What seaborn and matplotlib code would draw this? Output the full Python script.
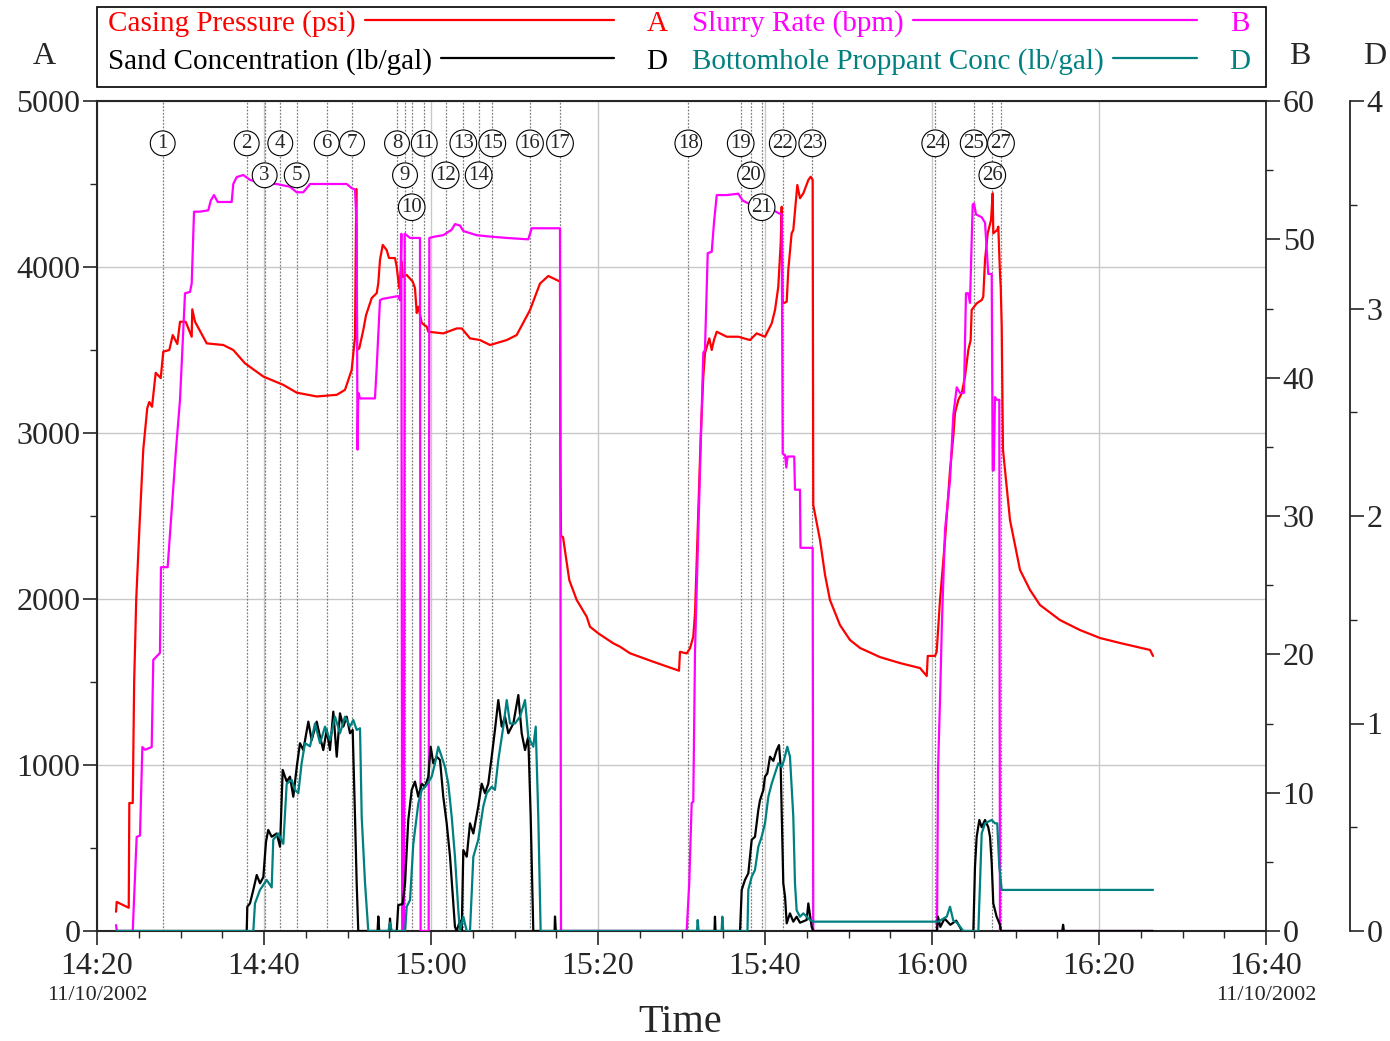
"""
Frac treatment chart: casing pressure, slurry rate and proppant concentrations vs time.
"""

import matplotlib
matplotlib.use("Agg")
import matplotlib.pyplot as plt
import matplotlib.ticker as mticker
from matplotlib.lines import Line2D
from matplotlib.patches import Rectangle
import seaborn as sns

sns.set_style("ticks")
plt.rcParams["font.family"] = ["Liberation Serif", "DejaVu Serif"]

# ---- data (time in minutes after 14:20 on 11/10/2002) ----
pressure_t = [2.28, 2.36, 3.80, 3.87, 4.28, 4.45, 4.70, 5.10, 5.54, 6.02, 6.26, 6.59, 7.03, 7.63,
              7.94, 8.66, 9.07, 9.62, 9.94, 10.62, 11.34, 11.41, 11.74, 13.14, 15.13, 16.32, 17.72,
              19.92, 22.31, 23.92, 26.31, 28.71, 29.70, 30.50, 30.90, 31.05, 31.15, 31.41, 31.89,
              32.22, 32.90, 33.50, 33.69, 33.89, 34.22, 34.69, 34.97, 35.69, 35.89, 36.20, 36.49,
              36.61, 37.09, 37.81, 38.08, 38.29, 38.48, 38.89, 39.49, 39.68, 41.47, 43.08, 43.68,
              44.67, 45.87, 47.07, 49.07, 50.26, 51.86, 53.05, 54.05, 55.45, 55.50, 55.57, 55.81,
              56.56, 57.45, 58.65, 59.04, 60.04, 61.83, 62.63, 63.83, 66.62, 69.70, 69.82, 70.62,
              71.02, 71.41, 71.62, 72.30, 72.61, 72.81, 73.33, 73.62, 73.89, 74.22, 75.41, 76.80,
              78.20, 79.00, 80.00, 80.80, 81.20, 81.59, 81.88, 82.00, 82.10, 82.19, 82.60, 82.79,
              83.19, 83.39, 83.87, 84.19, 84.59, 85.19, 85.47, 85.71, 85.78, 86.59, 87.19, 87.78,
              88.98, 90.18, 91.38, 93.77, 96.17, 98.56, 99.37, 99.49, 100.36, 100.56, 100.96,
              101.56, 102.16, 102.55, 102.75, 103.15, 103.56, 103.95, 104.35, 104.63, 104.75,
              105.35, 105.95, 106.14, 106.35, 106.67, 107.07, 107.27, 107.34, 107.81, 107.94,
              108.14, 108.23, 108.35, 108.50, 109.34, 110.54, 111.74, 112.93, 115.33, 117.72,
              120.12, 122.51, 126.11, 126.47]
pressure_psi = [116, 175, 140, 771, 771, 1500, 2000, 2450, 2900, 3150, 3187, 3158, 3363, 3331,
                3490, 3500, 3590, 3536, 3670, 3670, 3580, 3745, 3670, 3540, 3530, 3500, 3420,
                3340, 3290, 3243, 3220, 3230, 3260, 3380, 3580, 4470, 3500, 3510, 3620,
                3710, 3813, 3843, 3903, 4042, 4133, 4102, 4054, 4054, 4002, 3871, 4032,
                3940, 3952, 3912, 3873, 3723, 3761, 3663, 3640, 3610, 3600, 3630, 3630,
                3570, 3560, 3530, 3560, 3590, 3741, 3900, 3946, 3912, 2800, 2380, 2373,
                2114, 1994, 1893, 1833, 1793, 1733, 1713, 1673, 1622, 1568, 1682, 1672,
                1703, 1773, 1916, 2978, 3339, 3480, 3570, 3500, 3560, 3610, 3580, 3580,
                3560, 3600, 3580, 3660, 3741, 3881, 4143, 4363, 3800, 3781, 3791, 3982,
                4203, 4223, 4494, 4414, 4444, 4524, 4544, 4524, 2566, 2355, 2145, 1994,
                1843, 1753, 1705, 1650, 1614, 1584, 1536, 1657, 1657, 1682, 1994,
                2355, 2777, 2978, 3120, 3199, 3239, 3339, 3500, 3560, 3741,
                3781, 3801, 3821, 4042, 4203, 4283, 4444, 4203, 4223, 4243,
                3962, 3881, 3640, 2900, 2476, 2175, 2054, 1964, 1873, 1813,
                1765, 1735, 1693, 1657]

slurry_t = [2.28, 2.36, 4.28, 4.75, 5.15, 5.43, 5.75, 6.55, 6.74, 7.54, 7.66, 8.46, 9.46, 9.94,
            10.54, 11.14, 11.34, 11.62, 12.34, 13.33, 13.62, 14.01, 14.46, 16.13, 16.32, 16.73,
            17.52, 18.32, 19.92, 21.52, 23.11, 23.92, 24.71, 25.51, 27.10, 29.90, 30.50, 30.90,
            31.10, 31.20, 31.29, 31.50, 33.29, 33.50, 33.89, 34.22, 36.08, 36.29, 36.45, 36.55,
            36.75, 36.85, 37.09, 37.49, 38.68, 38.76, 39.72, 39.80, 40.48, 41.47, 42.48, 42.87,
            43.47, 43.87, 45.47, 47.07, 49.07, 51.65, 52.06, 55.45, 55.57, 70.62, 70.93, 71.22,
            71.41, 71.62, 72.61, 72.81, 73.14, 73.62, 73.89, 74.22, 75.41, 76.80, 77.33, 78.00,
            79.40, 81.00, 81.59, 82.00, 82.12, 82.40, 82.55, 82.70, 83.50, 83.59, 84.19, 84.25,
            85.71, 85.78, 100.60, 100.72, 100.96, 101.20, 101.56, 102.16, 102.55, 102.96, 103.35,
            103.83, 104.07, 104.35, 104.55, 104.75, 104.87, 105.03, 105.27, 105.95, 106.35,
            106.74, 107.15, 107.27, 107.40, 107.54, 107.74, 108.06, 108.14, 126.47]
slurry_bpm = [0.43, 0, 0, 6.8, 6.9, 13.3, 13.1, 13.3, 19.6, 20.1, 26.3, 26.3, 34.8, 38.4,
              46.1, 46.2, 46.8, 52.0, 52.0, 52.1, 52.8, 53.2, 52.7, 52.7, 54.0, 54.5,
              54.65, 54.3, 54.0, 54.0, 53.8, 53.4, 53.4, 54.0, 54.0, 54.0, 53.7, 53.6,
              50.9, 34.8, 38.9, 38.5, 38.5, 40.8, 45.6, 45.7, 45.9, 45.6, 50.4, 0,
              0, 50.4, 50.3, 50.1, 50.1, 0, 0, 50.1, 50.2, 50.3, 50.7, 51.1,
              51.0, 50.6, 50.3, 50.2, 50.1, 50.0, 50.8, 50.8, 0, 0, 3.5, 9.25,
              9.35, 20.3, 41.8, 42.0, 49.0, 49.1, 51.2, 53.2, 53.2, 53.3, 52.8, 52.6,
              52.4, 52.1, 51.9, 51.8, 34.5, 34.4, 33.5, 34.3, 34.3, 31.9, 31.9, 27.7,
              27.7, 0, 0, 11.6, 16.7, 22.5, 29.0, 32.6, 37.3, 39.3, 38.9,
              38.9, 46.1, 46.1, 45.4, 49.7, 52.5, 52.6, 51.8, 51.6, 51.2,
              47.5, 47.5, 33.3, 33.3, 38.6, 38.4, 38.4, 0, 0]

sand_t = [2.28, 17.93, 18.00, 18.32, 18.72, 19.13, 19.52, 19.92, 20.24, 20.51, 20.92, 21.52, 21.92,
          22.24, 22.72, 23.11, 23.51, 23.92, 24.31, 24.71, 25.31, 25.71, 26.31, 26.71, 27.10, 27.51,
          27.90, 28.30, 28.71, 29.10, 29.50, 29.90, 30.30, 30.62, 30.90, 31.10, 31.29, 33.60, 33.69,
          33.80, 35.00, 35.09, 35.20, 35.90, 36.08, 36.60, 36.89, 37.28, 37.69, 38.08, 38.48, 38.89,
          39.28, 39.68, 39.96, 40.28, 40.68, 41.08, 41.47, 41.88, 42.28, 42.67, 42.87, 43.08, 43.47,
          43.68, 43.87, 44.28, 44.67, 45.07, 45.66, 46.07, 46.47, 46.86, 47.27, 47.66, 48.06, 48.47,
          48.86, 49.26, 49.86, 50.46, 50.86, 51.26, 51.65, 51.94, 52.25, 54.80, 54.85, 54.95, 73.95,
          74.01, 74.07, 77.01, 77.21, 77.60, 78.00, 78.41, 78.80, 79.20, 79.40, 79.80, 80.00, 80.28,
          80.60, 81.00, 81.40, 81.68, 81.88, 82.19, 82.40, 82.60, 82.99, 83.39, 83.79, 84.19, 84.99,
          85.19, 85.59, 85.78, 100.60, 100.72, 101.00, 101.50, 102.20, 102.90, 103.60, 104.95,
          105.15, 105.35, 105.67, 105.95, 106.35, 106.74, 106.95, 107.15, 107.34, 107.74, 108.14,
          108.26, 115.60, 115.70, 115.80, 126.47]
sand_ppg = [0, 0, 0.117, 0.133, 0.198, 0.270, 0.23, 0.26, 0.43, 0.487, 0.454, 0.47, 0.406,
            0.776, 0.72, 0.744, 0.647, 0.79, 0.905, 0.872, 1.009, 0.92, 1.009, 0.936, 0.872, 0.969,
            0.872, 1.057, 0.84, 1.049, 0.985, 1.033, 0.953, 0.969, 0.55, 0.23, 0, 0, 0.07,
            0, 0, 0.06, 0, 0, 0.125, 0.13, 0.23, 0.535, 0.68, 0.72, 0.647, 0.71,
            0.695, 0.744, 0.888, 0.808, 0.84, 0.824, 0.647, 0.519, 0.358, 0.133, 0.02, 0, 0.05,
            0, 0.39, 0.358, 0.519, 0.47, 0.6, 0.71, 0.664, 0.71, 0.84, 0.969, 1.113, 0.985,
            1.033, 0.953, 1.0, 1.137, 0.953, 0.872, 0.936, 0.55, 0, 0, 0.07, 0, 0,
            0.069, 0, 0, 0.198, 0.246, 0.278, 0.44, 0.454, 0.583, 0.63, 0.68, 0.744, 0.76,
            0.84, 0.82, 0.872, 0.896, 0.79, 0.23, 0.165, 0.037, 0.085, 0.045, 0.069, 0.04, 0.053,
            0.133, 0.02, 0, 0, 0.069, 0.02, 0.06, 0.03, 0.05, 0, 0,
            0.31, 0.454, 0.535, 0.5, 0.535, 0.5, 0.454, 0.326, 0.133, 0.069, 0.03,
            0, 0, 0.03, 0, 0]

bhc_t = [2.28, 18.72, 18.92, 19.52, 20.32, 20.92, 21.11, 21.71, 22.31, 22.72, 23.32, 23.71, 24.11,
         24.51, 24.91, 25.51, 26.11, 26.71, 27.31, 27.90, 28.50, 29.10, 29.70, 30.30, 30.69, 31.10,
         31.50, 31.70, 32.10, 32.49, 34.90, 35.09, 35.30, 36.90, 37.09, 37.49, 37.88, 38.48, 38.89,
         39.49, 40.08, 40.48, 40.87, 41.28, 41.68, 42.07, 42.48, 42.87, 43.27, 43.47, 43.87, 44.28,
         44.67, 45.07, 45.66, 46.26, 46.67, 47.27, 47.66, 48.06, 48.66, 49.07, 49.46, 50.06, 50.66,
         51.26, 51.65, 52.25, 52.54, 52.85, 53.13, 71.85, 71.94, 72.05, 74.80, 74.89, 75.00, 77.90,
         78.00, 78.41, 78.80, 79.20, 79.60, 80.00, 80.40, 80.80, 81.20, 81.59, 82.00, 82.28, 82.67,
         82.99, 83.39, 83.59, 83.79, 84.19, 84.59, 84.99, 85.39, 85.78, 100.36, 100.75, 101.76,
         102.16, 102.55, 103.00, 103.75, 105.55, 105.75, 105.95, 106.35, 107.15, 107.54, 107.81,
         108.06, 108.35, 126.47]
bhc_ppg = [0, 0, 0.133, 0.198, 0.246, 0.21, 0.44, 0.47, 0.42, 0.71, 0.728, 0.68, 0.664,
           0.81, 0.905, 0.89, 1.0, 0.905, 0.985, 0.92, 1.033, 0.953, 1.033, 0.985, 1.017, 0.969,
           0.977, 0.55, 0.23, 0, 0, 0.04, 0, 0, 0.117, 0.149, 0.42, 0.615, 0.68,
           0.704, 0.744, 0.808, 0.888, 0.84, 0.79, 0.71, 0.55, 0.358, 0.1, 0, 0.069, 0,
           0, 0.358, 0.44, 0.6, 0.664, 0.695, 0.68, 0.824, 0.985, 1.113, 1.0, 1.0, 1.033,
           1.113, 0.936, 0.888, 0.985, 0.55, 0, 0, 0.053, 0, 0, 0.069, 0, 0,
           0.198, 0.262, 0.294, 0.406, 0.454, 0.519, 0.647, 0.71, 0.76, 0.808, 0.79, 0.824, 0.888,
           0.84, 0.55, 0.23, 0.1, 0.069, 0.085, 0.069, 0.053, 0.045, 0.045, 0.045, 0.069,
           0.117, 0.05, 0.04, 0, 0, 0.23, 0.47, 0.519, 0.535, 0.519, 0.519,
           0.31, 0.198, 0.198]

event_t = [7.87, 17.93, 20.08, 21.95, 23.92, 27.51, 30.54, 35.93, 36.89, 37.69, 39.19, 41.76,
           43.87, 45.71, 47.34, 51.86, 55.45, 70.81, 77.09, 78.32, 79.60, 82.12, 85.66, 100.39,
           104.99, 107.22, 108.26]
event_num = list(range(1, 28))

RED, MAGENTA, TEAL = "#ff0000", "#ff00ff", "#008080"


def px(x, y):
    """Figure pixel position -> figure fraction."""
    return x / 1390, 1 - y / 1041


def clock(v, pos=None):
    m = int(round(v)) + 14 * 60 + 20
    return f"{m // 60}:{m % 60:02d}"


fig = plt.figure(figsize=(13.9, 10.41), dpi=100)
ax = fig.add_axes([97 / 1390, 110 / 1041, 1169 / 1390, 830 / 1041])
axB = ax.twinx()
axD = ax.twinx()
axD.spines["right"].set_position(("axes", (1350 - 97) / 1169))

# event lines (under the curves)
for t in event_t:
    ax.axvline(t, color="#808080", lw=0.9, ls=(0, (1.5, 1.2)), zorder=1)

sns.lineplot(x=pressure_t, y=pressure_psi, ax=ax, color=RED, lw=1.6, estimator=None, sort=False)
sns.lineplot(x=slurry_t, y=slurry_bpm, ax=axB, color=MAGENTA, lw=1.6, estimator=None, sort=False)
sns.lineplot(x=sand_t, y=sand_ppg, ax=axD, color="black", lw=1.6, estimator=None, sort=False)
sns.lineplot(x=bhc_t, y=bhc_ppg, ax=axD, color=TEAL, lw=1.6, estimator=None, sort=False)

# axes limits & ticks
ax.set_xlim(0, 140)
ax.set_ylim(0, 5000)
axB.set_ylim(0, 60)
axD.set_ylim(0, 4)
ax.xaxis.set_major_locator(mticker.MultipleLocator(20))
ax.xaxis.set_minor_locator(mticker.MultipleLocator(5))
ax.xaxis.set_major_formatter(mticker.FuncFormatter(clock))
ax.yaxis.set_major_locator(mticker.MultipleLocator(1000))
ax.yaxis.set_minor_locator(mticker.MultipleLocator(500))
axB.yaxis.set_major_locator(mticker.MultipleLocator(10))
axB.yaxis.set_minor_locator(mticker.MultipleLocator(5))
axD.yaxis.set_major_locator(mticker.MultipleLocator(1))
axD.yaxis.set_minor_locator(mticker.MultipleLocator(0.5))

for a in (ax, axB, axD):
    a.set_xlabel("")
    a.set_ylabel("")
    a.tick_params(which="major", direction="out", length=10, width=1.2, labelsize=23, pad=2)
    a.tick_params(which="minor", direction="out", length=5, width=1)
ax.tick_params(axis="x", pad=5)

ax.grid(True, which="major", color="#c8c8c8", lw=1)
ax.set_axisbelow(True)

for side in ("left", "bottom", "top"):
    ax.spines[side].set_visible(True)
    ax.spines[side].set_linewidth(1.5)
ax.spines["right"].set_visible(False)
for a in (axB, axD):
    for side in ("left", "bottom", "top"):
        a.spines[side].set_visible(False)
    a.spines["right"].set_linewidth(1.3)

# circled event numbers, stacked so they do not overlap
rows_last = []
for t, n in zip(event_t, event_num):
    row = 0
    while row < len(rows_last) and t - rows_last[row] < 2.8:
        row += 1
    if row == len(rows_last):
        rows_last.append(t)
    rows_last[row] = t
    axD.text(t, 0.949 - 0.0385 * row, str(n), transform=axD.get_xaxis_transform(),
             ha="center", va="center", fontsize=15, zorder=10,
             bbox=dict(boxstyle="circle,pad=0.14", fc="white", ec="black", lw=0.8))

# axis letters, dates, x label
for x, s in ((44, "A"), (1300, "B"), (1375, "D")):
    fig.text(*px(x, 57), s, ha="center", va="center", fontsize=23)
for x in (97, 1266):
    fig.text(*px(x, 996), "11/10/2002", ha="center", va="center", fontsize=16)
fig.text(*px(680, 1022), "Time", ha="center", va="center", fontsize=29)

# legend box
fig.add_artist(Rectangle(px(97, 87), 1169 / 1390, 80 / 1041, transform=fig.transFigure,
                         fill=False, ec="black", lw=1.2))
entries = [
    ("Casing Pressure (psi)", RED, 108, 24, 614, "A", 657),
    ("Slurry Rate (bpm)", MAGENTA, 692, 24, 1197, "B", 1240),
    ("Sand Concentration (lb/gal)", "black", 108, 62, 614, "D", 657),
    ("Bottomhole Proppant Conc (lb/gal)", TEAL, 692, 62, 1197, "D", 1240),
]
fig.canvas.draw()
renderer = fig.canvas.get_renderer()
for label, color, x0, y0, x1, letter, xl in entries:
    txt = fig.text(*px(x0, y0), label, color=color, ha="left", va="center", fontsize=21)
    fig.text(*px(xl, y0), letter, color=color, ha="center", va="center", fontsize=21)
    bb = txt.get_window_extent(renderer)
    xs = bb.x1 + 9
    fig.add_artist(Line2D([xs / 1390, x1 / 1390], [px(0, y0 - 4)[1]] * 2,
                          transform=fig.transFigure, color=color, lw=1.6))

fig.savefig("out.png", dpi=100)
